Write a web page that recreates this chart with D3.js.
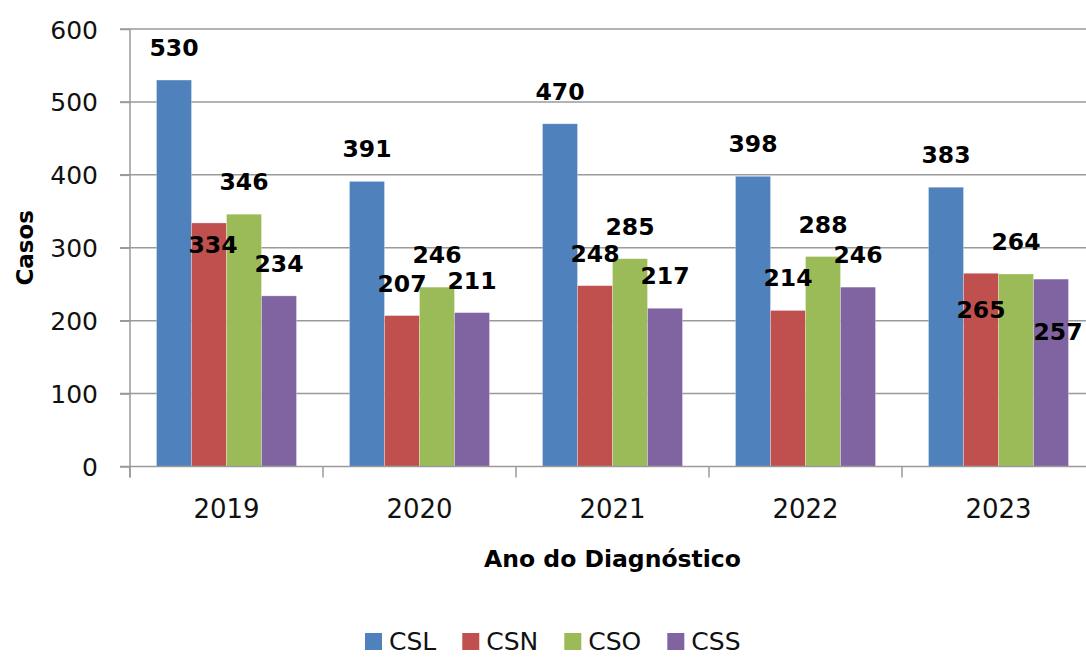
<!DOCTYPE html>
<html>
<head>
<meta charset="utf-8">
<script src="https://cdn.jsdelivr.net/npm/d3@7"></script>
<style>
  html, body { margin: 0; padding: 0; background: #fff; overflow: hidden; }
  svg { display: block; font-family: "DejaVu Sans", sans-serif; }
</style>
</head>
<body>
<svg id="chart" width="1086" height="657"></svg>
<script>
// ---- data ----
const years = ["2019", "2020", "2021", "2022", "2023"];
const seriesNames = ["CSL", "CSN", "CSO", "CSS"];
const CSL = [530, 391, 470, 398, 383];
const CSN = [334, 207, 248, 214, 265];
const CSO = [346, 246, 285, 288, 264];
const CSS = [234, 211, 217, 246, 257];
const yTicks = [0, 100, 200, 300, 400, 500, 600];
const yTitle = "Casos";
const xTitle = "Ano do Diagnóstico";

// ---- style / layout ----
const colors = { CSL: "#4F81BD", CSN: "#C0504D", CSO: "#9BBB59", CSS: "#8064A2" };
// label nudges (pixels) for labels the original moved off the default spot
const labelNudge = { "CSN-2019": [4, 54], "CSN-2023": [0, 69], "CSS-2023": [7, 85] };

const seriesValues = { CSL, CSN, CSO, CSS };
const rows = years.map((yr, i) => ({ year: yr, values: seriesNames.map(s => ({ s, v: seriesValues[s][i] })) }));

const svg = d3.select("#chart");
const pLeft = 130, pRight = 1095, pTop = 29, pBottom = 466.5;

const x0 = d3.scaleBand().domain(years).range([pLeft, pRight]).paddingInner(0).paddingOuter(0);
const x1 = d3.scaleBand().domain(seriesNames).range([0, x0.bandwidth()]).paddingInner(0).paddingOuter(0.757);
const y = d3.scaleLinear().domain([0, 600]).range([pBottom, pTop]);

const gridColor = "#9a9a9a";

// gridlines
svg.append("g").selectAll("line").data(yTicks.filter(t => t > 0)).join("line")
  .attr("x1", pLeft - 10).attr("x2", pRight)
  .attr("y1", d => y(d)).attr("y2", d => y(d))
  .attr("stroke", gridColor).attr("stroke-width", 1.5);

// y axis
const yAxis = svg.append("g").attr("transform", `translate(${pLeft},0)`)
  .call(d3.axisLeft(y).tickValues(yTicks).tickSize(10).tickPadding(22));
yAxis.select(".domain").attr("stroke", gridColor).attr("stroke-width", 1.5)
  .attr("d", `M0,${pTop}V${pBottom + 11}`);
yAxis.selectAll(".tick line").attr("stroke", gridColor).attr("stroke-width", 1.5);
yAxis.selectAll(".tick text").attr("font-size", 25).attr("fill", "#111")
  .attr("font-family", "DejaVu Sans").attr("dy", "0.36em");

// bars
const groups = svg.append("g").selectAll("g").data(rows).join("g")
  .attr("transform", d => `translate(${x0(d.year)},0)`);
groups.selectAll("rect").data(d => d.values).join("rect")
  .attr("x", d => x1(d.s)).attr("width", x1.bandwidth())
  .attr("y", d => y(d.v)).attr("height", d => y(0) - y(d.v))
  .attr("fill", d => colors[d.s])
  .attr("stroke", "rgba(255,255,255,0.35)").attr("stroke-width", 0.8);

// x axis
const xAxis = svg.append("g").attr("transform", `translate(0,${pBottom})`);
xAxis.append("line").attr("x1", pLeft - 10).attr("x2", pRight).attr("y1", 0).attr("y2", 0)
  .attr("stroke", gridColor).attr("stroke-width", 1.5);
xAxis.selectAll("line.tk").data(years.concat(["end"])).join("line").attr("class", "tk")
  .attr("x1", (d, i) => pLeft + i * x0.step()).attr("x2", (d, i) => pLeft + i * x0.step())
  .attr("y1", 0).attr("y2", 11).attr("stroke", gridColor).attr("stroke-width", 1.5);
xAxis.selectAll("text").data(years).join("text")
  .attr("x", d => x0(d) + x0.bandwidth() / 2).attr("y", 51.5)
  .attr("text-anchor", "middle").attr("font-size", 26).attr("fill", "#111")
  .text(d => d);

// data labels
groups.selectAll("text").data(d => d.values.map(v => ({ ...v, year: d.year }))).join("text")
  .attr("x", d => x1(d.s) + x1.bandwidth() / 2 + (labelNudge[d.s + "-" + d.year] || [0, 0])[0])
  .attr("y", d => y(d.v) - 24 + (labelNudge[d.s + "-" + d.year] || [0, 0])[1])
  .attr("text-anchor", "middle").attr("font-size", 23.5).attr("font-weight", "bold")
  .attr("fill", "#000").text(d => d.v);

// axis titles
svg.append("text").attr("transform", `translate(33,${(pTop + pBottom) / 2}) rotate(-90)`)
  .attr("text-anchor", "middle").attr("font-size", 23).attr("font-weight", "bold")
  .attr("fill", "#000").text(yTitle);
svg.append("text").attr("x", (pLeft + pRight) / 2).attr("y", 567)
  .attr("text-anchor", "middle").attr("font-size", 23.5).attr("font-weight", "bold")
  .attr("fill", "#000").text(xTitle);

// legend
const legend = svg.append("g");
let lx = 365;
seriesNames.forEach(s => {
  const g = legend.append("g").attr("transform", `translate(${lx},0)`);
  g.append("rect").attr("x", 0).attr("y", 633).attr("width", 17).attr("height", 17).attr("fill", colors[s]);
  const t = g.append("text").attr("x", 24).attr("y", 650).attr("font-size", 25).attr("fill", "#111").text(s);
  const w = t.node().getComputedTextLength();
  lx += 24 + w + 26;
});
</script>
</body>
</html>
